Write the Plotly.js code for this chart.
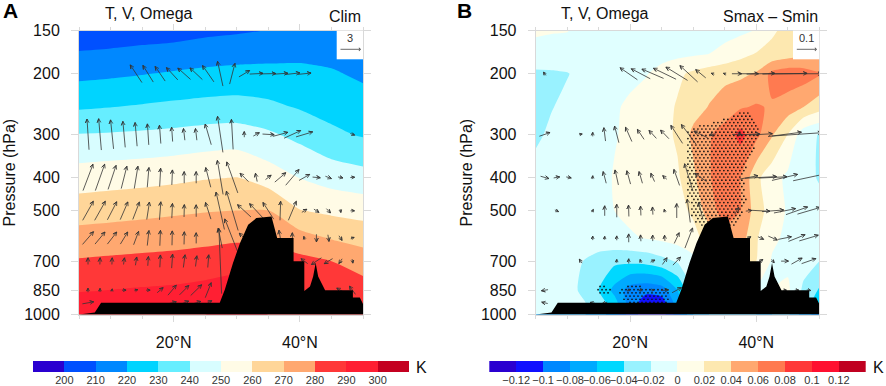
<!DOCTYPE html>
<html>
<head>
<meta charset="utf-8">
<script src="https://cdn.plot.ly/plotly-3.0.1.min.js"></script>
<style>html,body{margin:0;padding:0;background:#fff}#chart{width:886px;height:386px}</style>
</head>
<body>
<div id="chart"></div>
<script>
// ---------- temperature panel (K), rows = pressure, columns = latitude ----------
const latA = [5,10,15,20,25,30,35,40,45,50];
const presA = [150,200,250,300,400,500,600,700,850,1000];
const tempClim = [
 [203.4,204.1,205.2,205.9,207.7,208.8,210.3,213,213,212.7],
 [217.4,218.4,219.6,221,222.2,223,223,222.3,221,218.4],
 [228.9,229.9,231,232.2,233.3,233.9,232.2,229.2,226.6,224],
 [240.3,240.8,241.5,242.4,243.7,244.4,241.5,237.2,232,229],
 [254.8,255.8,256.7,257.8,259.3,260.1,255,249.7,245.9,243.8],
 [265.6,266.5,267.4,268.5,269.5,270.1,270.3,260.4,258,256.2],
 [273.9,274.7,275.6,276.4,277.4,278.5,278,274,269.3,266.5],
 [280.9,281.7,282.4,283.1,284.3,286,285,282.7,280,275],
 [289.4,290.1,290.9,291.6,293,295,294,288.7,287.5,284.8],
 [296.5,297.4,298,299,300,302,300,295,294,292]
];
// ---------- difference panel (K) ----------
const latB = [5,7.5,10,12.5,15,17.5,20,22.5,25,27.5,30,32.5,35,37.5,40,42.5,45,47.5,50];
const presB = [150,175,200,250,300,400,500,600,700,850,925,1000];
const tempDiff = [
 [.002,.001,.0005,-.004,-.005,-.006,-.006,-.007,-.007,-.007,-.008,-.008,-.007,-.004,.001,.018,.024,.029,.032],
 [-.005,-.006,-.007,-.007,-.007,-.007,-.007,-.007,-.006,-.005,-.003,0,.006,.014,.021,.024,.03,.034,.036],
 [-.024,-.023,-.021,-.014,-.009,-.007,-.004,-.001,.006,.016,.024,.03,.034,.036,.042,.066,.072,.07,.062],
 [-.03,-.021,-.015,-.01,-.006,-.002,.003,.008,.012,.022,.031,.041,.05,.058,.062,.058,.05,.04,.028],
 [-.024,-.016,-.012,-.008,-.004,-.001,.003,.007,.013,.023,.045,.058,.068,.086,.066,.042,.02,-.012,-.021],
 [-.012,-.011,-.01,-.008,-.005,.001,.004,.006,.01,.017,.036,.058,.072,.06,.025,.008,-.004,-.012,-.022],
 [-.01,-.01,-.009,-.007,-.004,0,.004,.005,.007,.012,.024,.05,.07,.06,.03,.01,-.002,-.008,-.012],
 [-.008,-.007,-.006,-.005,-.005,-.004,-.002,.001,.004,.008,.012,.03,.05,.05,.022,.004,-.004,-.008,-.012],
 [-.007,-.007,-.008,-.02,-.03,-.035,-.035,-.033,-.026,-.018,-.005,.02,.04,.04,.02,-.002,-.005,-.012,-.02],
 [-.006,-.008,-.012,-.024,-.04,-.066,-.09,-.095,-.09,-.06,-.02,0,.01,.01,0,0,.004,-.024,-.042],
 [-.006,-.006,-.01,-.018,-.03,-.052,-.09,-.11,-.11,-.07,-.02,0,.01,.01,0,0,.004,-.03,-.05],
 [-.006,-.006,-.01,-.018,-.03,-.052,-.09,-.11,-.11,-.07,-.02,0,.01,.01,0,0,.004,-.03,-.05]
];
// ---------- terrain mask ----------
const terrainLatA = [5,7.5,8.5,27.3,28.1,29.4,30.5,31.8,33.1,35.5,36.4,39,39,40.7,40.7,41.6,42.1,42.5,42.9,44,48.4,48.4,49.5,50,50];
const terrainP    = [1000,987,925,925,848,709,621,549,525,519,600,600,700,700,855,829,776,709,776,850,850,892,892,932,1000];
// ---------- colour bars ----------
const colorsClim = ['#2a00d0','#0050ff','#0088ff','#00d4ff','#66eeff','#d8fdff','#fffbe6','#ffd699','#ffa870','#ff3838','#ff1f33','#c40020'];
const colorsDiff = ['#2a00d0','#1010ff','#0088ff','#00aaff','#00d8ff','#99f2ff','#e0ffff','#fffde8','#fde8b0','#ffa870','#ff7a50','#ff3838','#ff1030','#c00020'];
const barMidClim = [195,205,215,225,235,245,255,265,275,285,295,305];
const barMidDiff = [-.13,-.11,-.09,-.07,-.05,-.03,-.01,.01,.03,.05,.07,.09,.11,.13];
const barTicksClim = [200,210,220,230,240,250,260,270,280,290,300];
const barTicksDiff = [-.12,-.1,-.08,-.06,-.04,-.02,0,.02,.04,.06,.08,.1,.12];
const barLabelsDiff = ['\u22120.12','\u22120.1','\u22120.08','\u22120.06','\u22120.04','\u22120.02','0','0.02','0.04','0.06','0.08','0.1','0.12'];
// ---------- axis ticks ----------
const pressureTicks = [150,200,300,400,500,700,850,1000];
const latTicks = [20,40];
const latLabels = ['20\u00b0N','40\u00b0N'];
const latMinor = [5,10,15,25,30,35,45,50];
// ---------- wind vectors (latitude grid; components in 1/65 of the key arrow) ----------
const _ = null;
const vecLat = [6.43,8.33,10.24,12.14,14.05,15.95,17.86,19.76,21.67,23.57,25.48,27.38,29.29,31.19,33.1,35,36.9,38.81,40.71,42.62,44.52,46.43,48.33];
const vecP = [200,300,400,500,600,700,850,925];
const clim200V = [_,_,_,_,-35,-31,-30,-34,-38,-37,-34,-16,16,32,40,45,45,45,40,_,_,_,_];
const clim200W = [_,_,_,_,53,50,44,37,34,35,49,74,62,19,2,1,3,5,4,_,_,_,_];
const clim300V = [-6,-8,-9,-7,-6,-4,-4,-3,-4,-4,-18,-16,-5,0,18,35,45,50,50,_,_,_,13];
const clim300W = [92,94,87,78,71,63,55,43,35,35,62,108,90,17,10,-2,12,23,15,_,_,_,-5];
const clim400V = [30,28,24,17,11,5,3,2,0,0,-15,-17,-33,-25,-5,17,33,40,32,23,18,15,13];
const clim400W = [79,79,72,67,67,59,55,45,35,35,59,102,93,25,25,13,28,47,18,-2,-7,-3,1];
const clim500V = [32,32,28,23,20,8,4,2,1,0,-16,-25,-35,-40,-40,-32,2,24,15,15,12,2,12];
const clim500W = [57,57,54,53,52,52,54,44,37,36,50,112,118,37,43,50,57,57,9,-10,-13,-10,0];
const clim600V = [33,30,28,22,15,5,2,1,1,0,_,-12,-45,-30,_,_,-8,0,-3,0,3,9,10];
const clim600W = [38,36,36,36,40,45,46,43,38,32,_,60,115,30,_,_,47,32,10,-23,-20,-14,4];
const clim700V = [0,1,1,3,4,2,2,3,5,4,3,-8,_,_,_,_,_,_,-20,-30,-25,-10,2];
const clim700W = [20,20,20,20,25,28,37,42,38,32,38,195,_,_,_,_,_,_,15,-20,-15,-14,-12];
const clim850V = [0,0,1,12,10,12,18,25,28,33,18,_,_,_,_,_,_,_,_,_,_,-22,-18];
const clim850W = [12,11,8,0,3,0,15,30,28,32,45,_,_,_,_,_,_,_,_,_,_,13,25];
const clim925V = [34,_,_,_,_,_,_,25,27,28,22,_,_,_,_,_,_,_,_,_,_,_,_];
const clim925W = [6,_,_,_,_,_,_,6,10,8,13,_,_,_,_,_,_,_,_,_,_,_,_];
const diff200V = [-7,_,_,_,_,_,_,-52,-57,-65,-68,-65,-53,-30,-9,-8,29,58,85,_,134,150,_];
const diff200W = [10,_,_,_,_,_,_,36,30,28,33,40,49,25,3,3,0,0,2,_,2,0,_];
const diff300V = [32,_,_,9,0,-5,-13,-19,-20,-22,-25,-35,-44,-41,-20,_,28,65,70,_,100,150,_];
const diff300W = [11,_,_,2,12,40,50,43,30,24,26,54,59,20,-3,_,0,3,4,_,13,10,_];
const diff400V = [25,18,15,_,0,-9,-10,-11,-10,-11,-12,-17,-25,-35,_,_,_,55,95,85,77,_,94];
const diff400W = [-7,3,-3,_,10,35,45,40,35,25,11,48,82,25,_,_,_,10,5,4,18,_,20];
const diff500V = [_,11,_,_,4,0,0,-1,-1,-1,-3,0,-9,-13,_,_,12,18,55,65,65,65,68];
const diff500W = [_,-5,_,_,8,30,39,34,28,23,9,43,70,50,_,_,20,2,-3,5,13,23,20];
const diff600V = [_,_,_,_,0,0,0,0,-1,0,-1,15,23,_,_,_,_,13,17,27,40,50,57];
const diff600W = [_,_,_,_,12,10,13,25,19,18,17,32,60,_,_,_,_,8,-8,-12,8,20,17];
const diff700V = [_,_,_,-8,_,_,0,0,-4,13,14,23,_,_,_,_,_,_,13,8,22,32,43];
const diff700W = [_,_,_,12,_,_,10,14,10,6,20,24,_,_,_,_,_,_,10,-10,0,18,15];
const diff850V = [-20,_,_,_,_,_,_,0,0,8,23,28,_,_,_,_,_,_,_,_,10,12,12];
const diff850W = [-3,_,_,_,_,_,_,8,10,0,2,15,_,_,_,_,_,_,_,_,0,0,-2];
const diff925V = [-18,_,_,_,-15,-15,_,_,_,_,_,_,_,_,_,_,_,_,_,_,_,_,_];
const diff925W = [4,_,_,_,3,-4,_,_,_,_,_,_,_,_,_,_,_,_,_,_,_,_,_];
// ---------- significance regions: pressure row, southern and northern edge ----------
const sigP1  = [260,270,279,288,300,326,356,372,400,425,465,497,519,555];
const sigLo1 = [37.1,35.3,32.1,29.2,28.9,28.9,28.9,28.7,28.9,28.9,29.2,29.2,29.7,30.8];
const sigHi1 = [38.7,39.5,40.3,40.6,40.3,39.8,39,38.4,37.9,38.2,38.4,37.9,37.4,36.9];
const sigP2  = [829,845,865,900,922];
const sigLo2 = [19.6,18.3,18.3,18.6,19.6];
const sigHi2 = [22,26.3,26.3,26.3,26];
const sigP3  = [829,845,864];
const sigLo3 = [14.6,14.1,14.6];
const sigHi3 = [16.4,17,16.6];

// ---------- page geometry ----------
const W = 886, H = 386;
const fx = p => p / W, fy = p => 1 - p / H;
const FONT = 'Liberation Sans, Arial, sans-serif';
const plotW = 284, plotH = 283.8;
const pxPerDeg = plotW / 45;
const pxPerDec = plotH / Math.log10(1000 / 150);

function discreteScale(cols) {
  return cols.map((c, i) => [i / (cols.length - 1), c]);
}
function vectorTrace(rowsV, rowsW, xa, ya, keyPx) {
  const xs = [], ys = [];
  const k = keyPx / 65;
  rowsV.forEach((rv, r) => {
    const lp = Math.log10(vecP[r]);
    rv.forEach((v, i) => {
      if (v === null) return;
      const w = rowsW[r][i];
      const dx = v * k, dy = w * k;
      const cx = vecLat[i] * pxPerDeg, cy = -lp * pxPerDec;
      const tx = cx - dx / 2, ty = cy - dy / 2, hx = cx + dx / 2, hy = cy + dy / 2;
      const len = Math.hypot(dx, dy) || 1;
      const ux = dx / len, uy = dy / len;
      const hl = Math.min(3.8, 1.5 + len * 0.35), hw = hl * 0.48;
      const lx = hx - ux * hl - uy * hw, ly = hy - uy * hl + ux * hw;
      const rx = hx - ux * hl + uy * hw, ry = hy - uy * hl - ux * hw;
      const pts = [[tx, ty], [hx, hy], [lx, ly], [hx, hy], [rx, ry]];
      pts.forEach(p => { xs.push(p[0] / pxPerDeg); ys.push(Math.pow(10, -p[1] / pxPerDec)); });
      xs.push(null); ys.push(null);
    });
  });
  return {type:'scatter', mode:'lines', x:xs, y:ys, xaxis:xa, yaxis:ya, hoverinfo:'skip',
          line:{color:'#333', width:0.8}, connectgaps:false, showlegend:false};
}
function stipple(P, LO, HI, xs, ys) {
  const stepDec = 3.2 / pxPerDec, stepLat = 4 / pxPerDeg;
  const start = Math.log10(P[0]), end = Math.log10(P[P.length - 1]);
  const rows = Math.round((end - start) / stepDec);
  for (let r = 0; r <= rows; r++) {
    const l = start + r * stepDec;
    const pp = Math.pow(10, l);
    let j = 0;
    while (j < P.length - 2 && P[j + 1] < pp) j++;
    const f = (pp - P[j]) / (P[j + 1] - P[j]);
    const lo = LO[j] + f * (LO[j + 1] - LO[j]);
    const hi = HI[j] + f * (HI[j + 1] - HI[j]);
    const off = (r % 2) ? stepLat / 2 : 0;
    let la = Math.ceil(lo / stepLat) * stepLat + off;
    for (; la <= hi; la += stepLat) { xs.push(la); ys.push(pp); }
  }
}

const sx = [], sy = [];
stipple(sigP1, sigLo1, sigHi1, sx, sy);
stipple(sigP2, sigLo2, sigHi2, sx, sy);
stipple(sigP3, sigLo3, sigHi3, sx, sy);

const traces = [
 {type:'contour', x:latA, y:presA, z:tempClim, xaxis:'x', yaxis:'y', autocontour:false, showscale:false,
  contours:{start:200,end:300,size:10,coloring:'fill',showlines:false}, line:{width:0,smoothing:0.6},
  colorscale:discreteScale(colorsClim), hoverinfo:'skip'},
 {type:'contour', x:latB, y:presB, z:tempDiff, xaxis:'x2', yaxis:'y2', autocontour:false, showscale:false,
  contours:{start:-0.12,end:0.12,size:0.02,coloring:'fill',showlines:false}, line:{width:0,smoothing:0.6},
  colorscale:discreteScale(colorsDiff), hoverinfo:'skip'},
 {type:'scatter', mode:'markers', x:sx, y:sy, xaxis:'x2', yaxis:'y2', hoverinfo:'skip',
  marker:{color:'#111', size:1.7, line:{width:0}}},
 vectorTrace([clim200V,clim300V,clim400V,clim500V,clim600V,clim700V,clim850V,clim925V],
             [clim200W,clim300W,clim400W,clim500W,clim600W,clim700W,clim850W,clim925W],'x','y',65/3),
 vectorTrace([diff200V,diff300V,diff400V,diff500V,diff600V,diff700V,diff850V,diff925V],
             [diff200W,diff300W,diff400W,diff500W,diff600W,diff700W,diff850W,diff925W],'x2','y2',65/3),
 {type:'scatter', mode:'lines', x:terrainLatA, y:terrainP, xaxis:'x', yaxis:'y', fill:'toself',
  fillcolor:'#000', line:{color:'#000',width:0}, hoverinfo:'skip'},
 {type:'scatter', mode:'lines', x:terrainLatA, y:terrainP, xaxis:'x2', yaxis:'y2', fill:'toself',
  fillcolor:'#000', line:{color:'#000',width:0}, hoverinfo:'skip'},
 {type:'bar', x:barMidClim, y:barMidClim.map(() => 1), width:10, xaxis:'x3', yaxis:'y3',
  marker:{color:colorsClim, line:{width:0}}, hoverinfo:'skip'},
 {type:'bar', x:barMidDiff, y:barMidDiff.map(() => 1), width:0.02, xaxis:'x4', yaxis:'y4',
  marker:{color:colorsDiff, line:{width:0}}, hoverinfo:'skip'}
];

const GREY = '#d9d9d9';
function latAxis(l, r, yref) {
  return {domain:[fx(l), fx(r)], anchor:yref, range:[5,50], type:'linear', tickmode:'array', tickvals:latTicks, ticktext:latLabels,
    ticks:'outside', ticklen:6, tickwidth:1, tickcolor:GREY, showline:true, linecolor:GREY, linewidth:1, mirror:'ticks',
    showgrid:false, zeroline:false, ticklabelstandoff:7, tickfont:{family:FONT,size:16,color:'#111'},
    minor:{tickmode:'array', tickvals:latMinor, ticks:'outside', ticklen:3, tickcolor:GREY, showgrid:false}};
}
function presAxis(xref) {
  return {domain:[fy(314.5), fy(30.7)], anchor:xref, type:'log', range:[3, Math.log10(150)], tickmode:'array',
    tickvals:pressureTicks, ticktext:pressureTicks.map(String), ticks:'outside', ticklen:7, tickwidth:1, tickcolor:GREY,
    showline:true, linecolor:GREY, linewidth:1, mirror:'ticks', showgrid:false, zeroline:false, ticklabelstandoff:8,
    tickfont:{family:FONT,size:16,color:'#111'},
    title:{text:'Pressure (hPa)', font:{family:FONT,size:16,color:'#111'}, standoff:4}};
}
function barAxis(l, r, rng, vals, labels, yref) {
  return {domain:[fx(l), fx(r)], anchor:yref, range:rng, tickmode:'array', tickvals:vals, ticktext:labels, tickangle:0,
    ticks:'', showline:false, showgrid:false, zeroline:false, tickfont:{family:FONT,size:11,color:'#333'}};
}
function hiddenY(xref) {
  return {domain:[fy(372), fy(361)], anchor:xref, range:[0,1], visible:false, fixedrange:true};
}
function txt(x, y, text, size, opts) {
  return Object.assign({xref:'paper', yref:'paper', x:fx(x), y:fy(y), text:text, showarrow:false,
    xanchor:'center', yanchor:'middle', font:{family:FONT,size:size,color:'#111'}}, opts||{});
}
function keyArrow(x0, x1, y) {
  return {xref:'paper', yref:'paper', x:fx(x1), y:fy(y), ax:x0-x1, ay:0, axref:'pixel', ayref:'pixel', text:'',
    showarrow:true, arrowhead:4, arrowsize:0.8, arrowwidth:0.8, arrowcolor:'#444', standoff:0, startstandoff:0};
}

const layout = {
  width:W, height:H, margin:{l:0,r:0,t:0,b:0}, paper_bgcolor:'#fff', plot_bgcolor:'#fff', showlegend:false,
  hovermode:false, barmode:'overlay', bargap:0,
  xaxis:latAxis(79,363,'y'), yaxis:presAxis('x'),
  xaxis2:latAxis(535.7,819.3,'y2'), yaxis2:presAxis('x2'),
  xaxis3:barAxis(33,409,[190,310],barTicksClim,barTicksClim.map(String),'y3'), yaxis3:hiddenY('x3'),
  xaxis4:barAxis(489.3,865.7,[-.14,.14],barTicksDiff,barLabelsDiff,'y4'), yaxis4:hiddenY('x4'),
  shapes:[
    {type:'rect', xref:'paper', yref:'paper', x0:fx(336.7), x1:fx(363), y0:fy(59.3), y1:fy(30.7), fillcolor:'#fff', line:{width:0}, layer:'above'},
    {type:'rect', xref:'paper', yref:'paper', x0:fx(793), x1:fx(819.3), y0:fy(59.3), y1:fy(30.7), fillcolor:'#fff', line:{width:0}, layer:'above'}
  ],
  annotations:[
    txt(10,11,'<b>A</b>',21,{font:{family:FONT,size:21,color:'#000'}}),
    txt(464,11,'<b>B</b>',21,{font:{family:FONT,size:21,color:'#000'}}),
    txt(149,13,'T, V, Omega',16),
    txt(605,13,'T, V, Omega',16),
    txt(363,16,'Clim',16,{xanchor:'right'}),
    txt(820,16,'Smax \u2013 Smin',16,{xanchor:'right'}),
    txt(349.7,38,'3',11,{font:{family:FONT,size:11,color:'#333'}}),
    txt(806.3,38,'0.1',11,{font:{family:FONT,size:11,color:'#333'}}),
    keyArrow(339,361,49.3),
    keyArrow(795.3,817,49.3),
    txt(421,367,'K',16),
    txt(878,367,'K',16)
  ]
};
Plotly.newPlot('chart', traces, layout, {displayModeBar:false, staticPlot:true});
</script>
</body>
</html>
